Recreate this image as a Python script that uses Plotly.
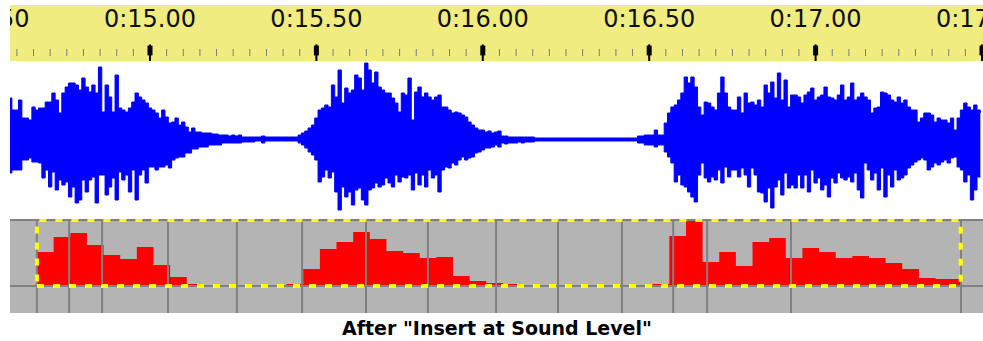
import numpy as np
import plotly.graph_objects as go

# ---------------- data ----------------
ruler_times = [14.5, 15.0, 15.5, 16.0, 16.5, 17.0, 17.5]
ruler_labels = ["0:14.50", "0:15.00", "0:15.50", "0:16.00", "0:16.50", "0:17.00", "0:17.50"]
minor_step = 0.05

wave_t0 = 14.575
wave_dt = 0.01
wave_max = [
    41, 29, 29, 39, 21, 21, 19, 32, 29, 31, 31, 37, 37, 46, 39, 26, 46, 52, 56, 56,
    54, 49, 61, 52, 47, 54, 46, 72, 27, 54, 42, 27, 64, 31, 29, 27, 31, 37, 46, 42,
    39, 36, 31, 29, 26, 21, 29, 22, 16, 17, 21, 14, 17, 12, 7, 11, 7, 7, 6, 6,
    6, 5, 5, 4, 4, 4, 3, 4, 3, 4, 2, 2, 2,
    2, 2, 2, 3] + [2] * 10 + [
    4, 6, 8, 11, 14, 21, 29, 31, 34, 32, 54, 42, 69, 36, 51, 46, 49, 64, 61, 49,
    76, 69, 56, 67, 52, 49, 46, 46, 41, 36, 27, 46, 44, 61, 19, 47, 52, 42, 46, 42,
    39, 42, 44, 32, 32, 29, 26, 27, 26, 24, 22, 17, 14, 11, 9, 9, 7, 8, 6,
    7, 8, 3, 3, 2, 2, 2, 2, 2, 2, 2, 2, 1] + [1] * 30 + [
    3, 3, 4, 4, 4, 9, 4, 4, 16, 26, 32, 34, 39, 46, 62, 56, 62, 52, 32, 24,
    37, 36, 32, 29, 46, 62, 46, 32, 29, 29,
    42, 26, 46, 36, 37, 34, 39, 32, 54, 46, 57, 41, 66, 39, 59, 32, 44, 44, 42, 36,
    44, 47, 51, 39, 42, 44, 52, 42, 41, 39, 44, 54, 39, 42, 56, 39, 42, 46, 42, 39,
    26, 31, 32, 47, 46, 44, 39, 37, 42, 36, 39, 32, 29, 29, 17, 21, 26, 26, 24, 17,
    21, 19, 19, 16, 21, 9, 21, 29, 36, 32, 29, 34, 29, 26]
wave_min = [
    -34, -31, -31, -31, -21, -21, -19, -23, -23, -24, -39, -31, -48, -33, -51, -41, -46, -43, -58, -48,
    -64, -61, -41, -53, -41, -38, -64, -36, -36, -56, -48, -39, -61, -33, -41, -36, -53, -31, -61, -36,
    -31, -44, -28, -28, -31, -28, -28, -26, -29, -21, -19, -18, -18, -14, -14, -10, -10, -8, -8, -8,
    -6, -6, -6, -6, -4, -4, -4, -4, -4, -4, -3, -3, -3,
    -3, -2, -2, -4] + [-2] * 10 + [
    -4, -6, -9, -13, -16, -21, -43, -38, -31, -39, -33, -53, -71, -48, -58, -53, -66, -51, -49, -61,
    -66, -51, -49, -44, -48, -46, -39, -44, -48, -36, -43, -38, -39, -36, -51, -34, -46, -36, -48, -31,
    -39, -36, -53, -31, -28, -29, -24, -26, -21, -18, -21, -19, -18, -14, -13, -11, -9, -9, -8,
    -6, -8, -4, -5, -4, -4, -4, -3, -4, -3, -3, -3, -2] + [-2] * 30 + [
    -4, -4, -6, -6, -6, -8, -6, -6, -13, -18, -24, -43, -36, -46, -48, -53, -58, -63, -36, -24,
    -39, -43, -38, -41, -31, -44, -28, -38, -31, -31,
    -38, -29, -36, -48, -29, -36, -53, -54, -63, -49, -69, -48, -41, -56, -34, -49, -46, -49, -36, -49,
    -36, -53, -31, -44, -39, -51, -46, -58, -39, -44, -34, -39, -41, -38, -43, -34, -51, -59, -24, -31,
    -41, -34, -51, -29, -58, -36, -48, -31, -41, -39, -36, -29, -26, -23, -21, -19, -21, -31, -28, -24,
    -26, -23, -21, -24, -19, -18, -28, -31, -43, -36, -61, -51, -38, -38]

level_t0 = 14.6605
level_dt = 0.05
level_end = 17.436
sound_level = [34, 49, 53, 41, 31, 27, 39, 21, 9, 2, 0, 0, 0, 0, 0, 2, 17, 37, 44, 54,
               47, 35, 33, 28, 29, 10, 5, 3, 2, 0, 0, 0, 0, 0, 0, 0, 0, 2, 50, 65,
               24, 34, 20, 44, 48, 28, 38, 34, 28, 30, 28, 23, 17, 8, 7, 7]
selection_top = 66

segment_marks = [14.660, 14.757, 14.856, 15.054, 15.261, 15.457, 15.649, 15.835,
                 16.040, 16.226, 16.418, 16.572, 16.674, 16.926, 17.437]

title_text = 'After "Insert at Sound Level"'

# ---------------- figure ----------------
W, H = 983, 341
def py(px):
    return 1 - px / H

n = min(len(wave_max), len(wave_min))
wave_t = wave_t0 + wave_dt * np.arange(n)

lvl_x = list(level_t0 + level_dt * np.arange(len(sound_level))) + [level_end]
lvl_y = list(sound_level) + [sound_level[-1]]

minor_x = np.arange(14.55, 17.56, minor_step)

BLUE = "#0000ff"
fig = go.Figure()

# waveform
fig.add_trace(go.Scatter(x=wave_t, y=wave_max[:n], mode="lines", line=dict(color=BLUE, width=1, shape="hv"),
                         yaxis="y2", hoverinfo="skip"))
fig.add_trace(go.Scatter(x=wave_t, y=wave_min[:n], mode="lines", line=dict(color=BLUE, width=1, shape="hv"),
                         fill="tonexty", fillcolor=BLUE, yaxis="y2", hoverinfo="skip"))

# sound level
fig.add_trace(go.Scatter(x=lvl_x, y=lvl_y, mode="lines", line=dict(color="#ff0000", width=0, shape="hv"),
                         fill="tozeroy", fillcolor="#ff0000", yaxis="y", hoverinfo="skip"))

# ruler minor ticks
fig.add_trace(go.Scatter(x=minor_x, y=[8.5] * len(minor_x), mode="markers", yaxis="y3",
                         marker=dict(symbol="line-ns", size=5, line=dict(color="#7a7a7a", width=1)),
                         hoverinfo="skip"))
# ruler major ticks
fig.add_trace(go.Scatter(x=ruler_times, y=[7.5] * len(ruler_times), mode="markers", yaxis="y3",
                         marker=dict(symbol="line-ns", size=13, line=dict(color="black", width=2)),
                         hoverinfo="skip"))
fig.add_trace(go.Scatter(x=ruler_times, y=[10.5] * len(ruler_times), mode="markers", yaxis="y3",
                         marker=dict(symbol="line-ns", size=7, line=dict(color="black", width=5)),
                         hoverinfo="skip"))
# ruler labels
fig.add_trace(go.Scatter(x=ruler_times, y=[40.0] * len(ruler_times), mode="text", yaxis="y3",
                         text=ruler_labels, textposition="middle center", cliponaxis=True,
                         textfont=dict(family="DejaVu Sans", size=24, color="#101010"),
                         hoverinfo="skip"))

shapes = [
    dict(type="rect", xref="x domain", yref="y3 domain", x0=0, x1=1, y0=0, y1=1,
         fillcolor="#f0ec80", line=dict(width=0), layer="below"),
    dict(type="rect", xref="x domain", yref="y domain", x0=0, x1=1, y0=0, y1=1,
         fillcolor="#b4b4b4", line=dict(width=0), layer="below"),
    dict(type="line", xref="x domain", yref="y", x0=0, x1=1, y0=0, y1=0,
         line=dict(color="#808080", width=2), layer="above"),
    dict(type="line", xref="x domain", yref="y", x0=0, x1=1, y0=selection_top, y1=selection_top,
         line=dict(color="#808080", width=2), layer="above"),
]
for t in segment_marks:
    shapes.append(dict(type="line", xref="x", yref="y domain", x0=t, x1=t, y0=0, y1=1,
                       line=dict(color="#808080", width=2), layer="above"))
shapes.append(dict(type="rect", xref="x", yref="y", x0=level_t0, x1=level_end, y0=0, y1=selection_top,
                   line=dict(color="#ffff00", width=4, dash="7px,9px"), fillcolor="rgba(0,0,0,0)",
                   layer="above"))

t_left = 15 + (10 - 150) / 332.8
t_right = 15 + (983 - 150) / 332.8

fig.update_layout(
    width=W, height=H, margin=dict(l=0, r=0, t=0, b=0),
    paper_bgcolor="white", plot_bgcolor="rgba(0,0,0,0)", showlegend=False,
    xaxis=dict(domain=[10 / W, 1], range=[t_left, t_right], visible=False, anchor="y"),
    yaxis=dict(domain=[py(313), py(219)], range=[-27, 67], visible=False, anchor="x"),
    yaxis2=dict(domain=[py(216), py(62)], range=[-77, 77], visible=False, anchor="x"),
    yaxis3=dict(domain=[py(61), py(5)], range=[0, 56], visible=False, anchor="x"),
    shapes=shapes,
    annotations=[dict(text="<b>" + title_text + "</b>", xref="paper", yref="paper",
                      x=497 / W, y=py(328), xanchor="center", yanchor="middle", showarrow=False,
                      font=dict(family="DejaVu Sans", size=19, color="black"))],
)

fig.write_html("out.html", config={"displayModeBar": False},
               post_script="document.body.style.margin='0';document.body.style.overflow='hidden';")
